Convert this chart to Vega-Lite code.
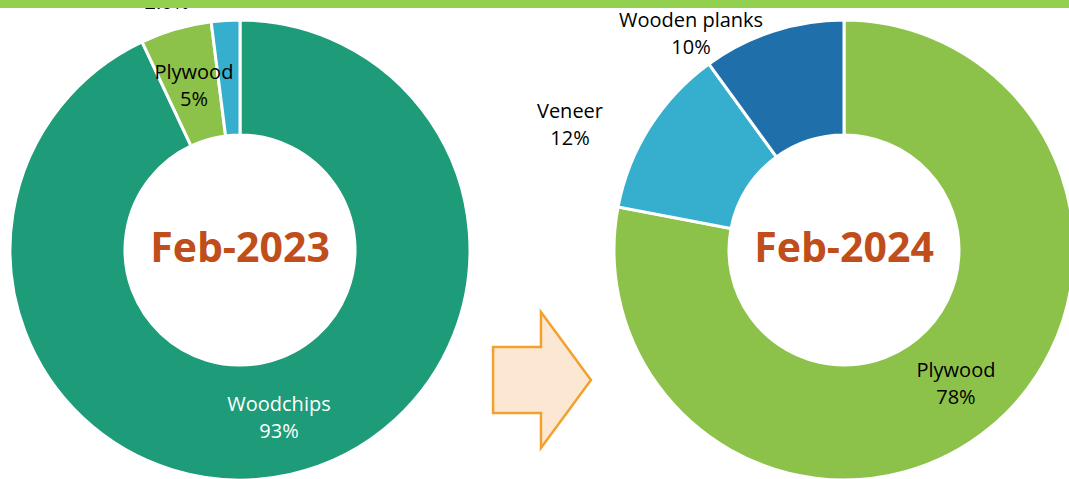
{
  "$schema": "https://vega.github.io/schema/vega-lite/v6.json",
  "width": 1069,
  "height": 479,
  "autosize": {"type": "none"},
  "padding": 0,
  "background": "white",
  "config": {"view": {"stroke": null}, "font": "Open Sans"},
  "data": {
    "values": [
      {"period": "Feb-2023", "category": "Woodchips", "share": 93, "label": "Woodchips\n93%"},
      {"period": "Feb-2023", "category": "Plywood", "share": 5, "label": "Plywood\n5%"},
      {"period": "Feb-2023", "category": "Veneer", "share": 2, "label": "Veneer\n2.0%"},
      {"period": "Feb-2024", "category": "Plywood", "share": 78, "label": "Plywood\n78%"},
      {"period": "Feb-2024", "category": "Veneer", "share": 12, "label": "Veneer\n12%"},
      {"period": "Feb-2024", "category": "Wooden planks", "share": 10, "label": "Wooden planks\n10%"}
    ]
  },
  "encoding": {
    "x": {"field": "period", "type": "nominal", "axis": null,
      "scale": {"type": "point", "domain": ["Feb-2023", "arrow", "Feb-2024"], "range": [240, 844], "padding": 0}},
    "y": {"datum": "donut", "type": "nominal", "axis": null,
      "scale": {"type": "point", "domain": ["donut", "arrow"], "range": [250, 380], "padding": 0}}
  },
  "layer": [
    {
      "transform": [{"filter": "datum.period === 'Feb-2023'"}],
      "mark": {"type": "arc", "outerRadius": 230, "innerRadius": 115, "stroke": "white", "strokeWidth": 3},
      "encoding": {
        "theta": {"field": "share", "type": "quantitative", "stack": true},
        "order": {"field": "share", "sort": "descending"},
        "color": {"field": "category", "type": "nominal", "legend": null,
          "scale": {"domain": ["Woodchips", "Plywood", "Veneer", "Wooden planks"], "range": ["#1E9B78", "#8DC24A", "#36AFCE", "#1F70AA"]}}
      }
    },
    {
      "transform": [{"filter": "datum.period === 'Feb-2024'"}],
      "mark": {"type": "arc", "outerRadius": 230, "innerRadius": 115, "stroke": "white", "strokeWidth": 3},
      "encoding": {
        "theta": {"field": "share", "type": "quantitative", "stack": true},
        "order": {"field": "share", "sort": "descending"},
        "color": {"field": "category", "type": "nominal", "legend": null}
      }
    },
    {
      "data": {"values": [{"period": "Feb-2023"}, {"period": "Feb-2024"}]},
      "mark": {"type": "text", "font": "Open Sans", "fontSize": 41, "fontWeight": "bold", "color": "#BF4E1A", "align": "center", "baseline": "middle"},
      "encoding": {"text": {"field": "period"}}
    },
    {
      "transform": [{"filter": "datum.period === 'Feb-2023' && datum.category === 'Woodchips'"}],
      "mark": {"type": "text", "theta": 2.8951, "radius": 159.8, "lineBreak": "\n", "fontSize": 20, "lineHeight": 27, "color": "white", "align": "center", "baseline": "middle"},
      "encoding": {"text": {"field": "label"}}
    },
    {
      "transform": [{"filter": "datum.period === 'Feb-2023' && datum.category === 'Plywood'"}],
      "mark": {"type": "text", "theta": -0.2546, "radius": 182.9, "lineBreak": "\n", "fontSize": 20, "lineHeight": 27, "color": "black", "align": "center", "baseline": "middle"},
      "encoding": {"text": {"field": "label"}}
    },
    {
      "transform": [{"filter": "datum.period === 'Feb-2023' && datum.category === 'Veneer'"}],
      "mark": {"type": "text", "theta": -0.2607, "radius": 283.6, "lineBreak": "\n", "fontSize": 20, "lineHeight": 27, "color": "black", "align": "center", "baseline": "middle"},
      "encoding": {"text": {"field": "label"}}
    },
    {
      "transform": [{"filter": "datum.period === 'Feb-2024' && datum.category === 'Plywood'"}],
      "mark": {"type": "text", "theta": 2.397, "radius": 165.2, "lineBreak": "\n", "fontSize": 20, "lineHeight": 27, "color": "black", "align": "center", "baseline": "middle"},
      "encoding": {"text": {"field": "label"}}
    },
    {
      "transform": [{"filter": "datum.period === 'Feb-2024' && datum.category === 'Veneer'"}],
      "mark": {"type": "text", "theta": -1.1055, "radius": 306.6, "lineBreak": "\n", "fontSize": 20, "lineHeight": 27, "color": "black", "align": "center", "baseline": "middle"},
      "encoding": {"text": {"field": "label"}}
    },
    {
      "transform": [{"filter": "datum.period === 'Feb-2024' && datum.category === 'Wooden planks'"}],
      "mark": {"type": "text", "theta": -0.588, "radius": 275.8, "lineBreak": "\n", "fontSize": 20, "lineHeight": 27, "color": "black", "align": "center", "baseline": "middle"},
      "encoding": {"text": {"field": "label"}}
    },
    {
      "data": {"values": [{"shape": "arrow"}]},
      "mark": {"type": "point", "filled": true, "size": 18496,
        "shape": "M-0.72,-0.485 L-0.015,-0.485 L-0.015,-1 L0.72,0 L-0.015,1 L-0.015,0.485 L-0.72,0.485 Z",
        "fill": "#FCE8D2", "stroke": "#F2A12F", "strokeWidth": 2.5, "opacity": 1, "fillOpacity": 1, "strokeJoin": "miter"},
      "encoding": {
        "x": {"datum": "arrow", "type": "nominal"},
        "y": {"datum": "arrow", "type": "nominal"}
      }
    },
    {
      "data": {"values": [{"banner": "top"}]},
      "mark": {"type": "rect", "color": "#92D050"},
      "encoding": {
        "x": {"value": 0},
        "x2": {"value": "width"},
        "y": {"value": 0},
        "y2": {"value": 8}
      }
    }
  ]
}
